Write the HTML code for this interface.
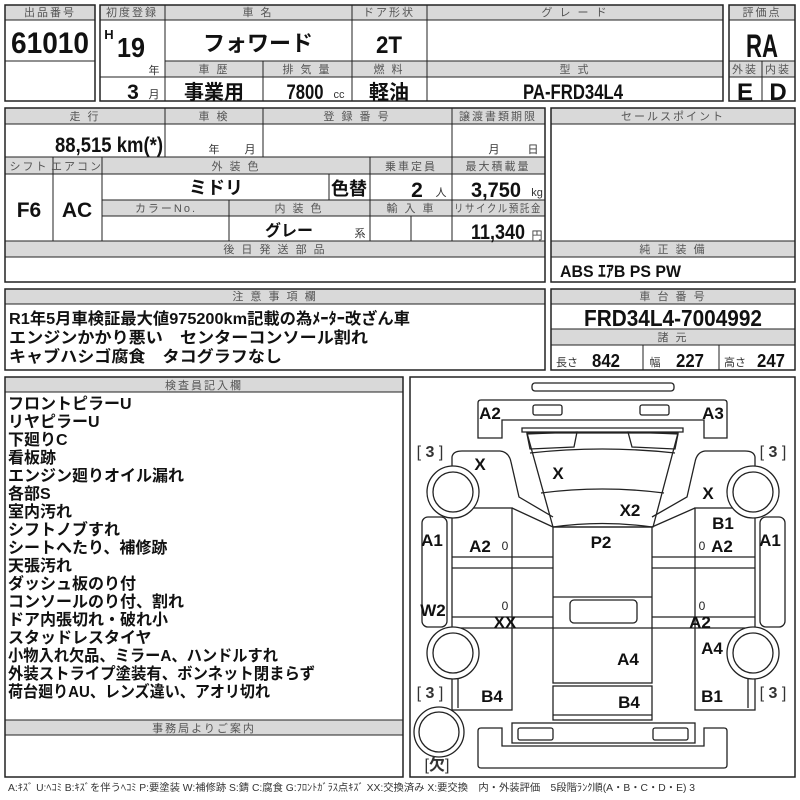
<!DOCTYPE html>
<html><head><meta charset="utf-8"><style>
html,body{margin:0;padding:0;background:#fff}
svg{display:block}
text{font-family:"Liberation Sans","Noto Sans CJK JP",sans-serif}
.h{font-size:11px;fill:#555;text-anchor:middle;letter-spacing:2px}
.b{font-weight:bold;fill:#111;text-anchor:middle}
.s{font-size:11px;fill:#333;text-anchor:middle}
.l{font-weight:bold;fill:#111;font-size:16px}
.g{fill:#d9d9d9;stroke:none}
.d{fill:none;stroke:#222;stroke-width:1.3}
.c{font-weight:bold;fill:#111;font-size:17px;text-anchor:middle}
.br{font-size:16px;fill:#333;text-anchor:middle}
</style></head><body>
<svg width="800" height="800" viewBox="0 0 800 800" xmlns="http://www.w3.org/2000/svg">
<g>
<rect class="g" x="5" y="5" width="90" height="15"/>
<rect x="5" y="5" width="90" height="96" fill="none" stroke="#222" stroke-width="1.5"/>
<line x1="5" y1="20" x2="95" y2="20" stroke="#222"/>
<line x1="5" y1="61" x2="95" y2="61" stroke="#222"/>
<text class="h" x="50" y="16">出品番号</text>
<text class="b" x="50" y="53" font-size="30" textLength="78" lengthAdjust="spacingAndGlyphs">61010</text>

<rect class="g" x="100" y="5" width="623" height="15"/>
<rect class="g" x="165" y="61" width="558" height="16"/>
<rect x="100" y="5" width="623" height="96" fill="none" stroke="#222" stroke-width="1.5"/>
<g stroke="#222">
<line x1="100" y1="20" x2="723" y2="20"/>
<line x1="165" y1="61" x2="723" y2="61"/>
<line x1="100" y1="77" x2="723" y2="77"/>
<line x1="165" y1="5" x2="165" y2="101"/>
<line x1="352" y1="5" x2="352" y2="101"/>
<line x1="427" y1="5" x2="427" y2="101"/>
<line x1="263" y1="61" x2="263" y2="101"/>
</g>
<text class="h" x="132" y="16" letter-spacing="0">初度登録</text>
<text class="h" x="258" y="16">車 名</text>
<text class="h" x="389" y="16" letter-spacing="0">ドア形状</text>
<text class="h" x="575" y="16">グ レ ー ド</text>
<text class="b" x="109" y="39" font-size="13">H</text>
<text class="b" x="131" y="57" font-size="28" textLength="28" lengthAdjust="spacingAndGlyphs">19</text>
<text class="s" x="154" y="74">年</text>
<text class="b" x="258" y="51" font-size="22">フォワード</text>
<text class="b" x="389" y="53" font-size="24" textLength="26" lengthAdjust="spacingAndGlyphs">2T</text>
<text class="h" x="214" y="73">車 歴</text>
<text class="h" x="307" y="73">排 気 量</text>
<text class="h" x="389" y="73">燃 料</text>
<text class="h" x="575" y="73">型 式</text>
<text class="b" x="133" y="99" font-size="21">3</text>
<text class="s" x="154" y="98">月</text>
<text class="b" x="214" y="99" font-size="20">事業用</text>
<text class="b" x="305" y="99" font-size="21" textLength="37" lengthAdjust="spacingAndGlyphs">7800</text>
<text class="s" x="339" y="98" font-size="10">cc</text>
<text class="b" x="389" y="99" font-size="20">軽油</text>
<text class="b" x="573" y="99" font-size="21" textLength="100" lengthAdjust="spacingAndGlyphs">PA-FRD34L4</text>

<rect class="g" x="729" y="5" width="66" height="15"/>
<rect class="g" x="729" y="61" width="66" height="16"/>
<rect x="729" y="5" width="66" height="96" fill="none" stroke="#222" stroke-width="1.5"/>
<g stroke="#222"><line x1="729" y1="20" x2="795" y2="20"/><line x1="729" y1="61" x2="795" y2="61"/><line x1="729" y1="77" x2="795" y2="77"/><line x1="762" y1="61" x2="762" y2="101"/></g>
<text class="h" x="762" y="16" letter-spacing="0">評価点</text>
<text class="b" x="762" y="57" font-size="32" textLength="32" lengthAdjust="spacingAndGlyphs">RA</text>
<text class="h" x="745" y="73" letter-spacing="0">外装</text>
<text class="h" x="778" y="73" letter-spacing="0">内装</text>
<text class="b" x="745" y="100" font-size="24">E</text>
<text class="b" x="778" y="100" font-size="24">D</text>

<rect class="g" x="5" y="108" width="540" height="16"/>
<rect class="g" x="5" y="157" width="540" height="17"/>
<rect class="g" x="102" y="200" width="443" height="16"/>
<rect class="g" x="5" y="241" width="540" height="16"/>
<rect x="5" y="108" width="540" height="174" fill="none" stroke="#222" stroke-width="1.5"/>
<g stroke="#222">
<line x1="5" y1="124" x2="545" y2="124"/>
<line x1="5" y1="157" x2="545" y2="157"/>
<line x1="5" y1="174" x2="545" y2="174"/>
<line x1="102" y1="200" x2="545" y2="200"/>
<line x1="102" y1="216" x2="545" y2="216"/>
<line x1="5" y1="241" x2="545" y2="241"/>
<line x1="5" y1="257" x2="545" y2="257"/>
<line x1="165" y1="108" x2="165" y2="157"/>
<line x1="263" y1="108" x2="263" y2="157"/>
<line x1="452" y1="108" x2="452" y2="241"/>
<line x1="53" y1="157" x2="53" y2="241"/>
<line x1="102" y1="157" x2="102" y2="241"/>
<line x1="370" y1="157" x2="370" y2="241"/>
<line x1="329" y1="174" x2="329" y2="200"/>
<line x1="229" y1="200" x2="229" y2="241"/>
<line x1="411" y1="216" x2="411" y2="241"/>
</g>
<text class="h" x="85" y="120">走 行</text>
<text class="h" x="214" y="120">車 検</text>
<text class="h" x="357" y="120">登 録 番 号</text>
<text class="h" x="498" y="120" letter-spacing="0">譲渡書類期限</text>
<text class="b" x="109" y="152" font-size="21" textLength="108" lengthAdjust="spacingAndGlyphs">88,515 km(*)</text>
<text class="s" x="214" y="153">年</text>
<text class="s" x="250" y="153">月</text>
<text class="s" x="494" y="153">月</text>
<text class="s" x="533" y="153">日</text>
<text class="h" x="29" y="170" letter-spacing="0">シフト</text>
<text class="h" x="77" y="170" letter-spacing="0">エアコン</text>
<text class="h" x="236" y="170">外 装 色</text>
<text class="h" x="411" y="170" letter-spacing="0">乗車定員</text>
<text class="h" x="498" y="170" letter-spacing="0">最大積載量</text>
<text class="b" x="29" y="217" font-size="21">F6</text>
<text class="b" x="77" y="217" font-size="21">AC</text>
<text class="b" x="216" y="194" font-size="18">ミドリ</text>
<text class="b" x="349" y="195" font-size="18">色替</text>
<text class="b" x="417" y="197" font-size="21">2</text>
<text class="s" x="441" y="196">人</text>
<text class="b" x="496" y="197" font-size="21" textLength="50" lengthAdjust="spacingAndGlyphs">3,750</text>
<text class="s" x="537" y="196" font-size="10">kg</text>
<text class="h" x="166" y="212" letter-spacing="4">カラーNo.</text>
<text class="h" x="299" y="212">内 装 色</text>
<text class="h" x="411" y="212">輸 入 車</text>
<text class="h" x="498" y="212" letter-spacing="0" textLength="88" lengthAdjust="spacingAndGlyphs">リサイクル預託金</text>
<text class="b" x="289" y="236" font-size="16">グレー</text>
<text class="s" x="360" y="237">系</text>
<text class="b" x="498" y="239" font-size="21" textLength="54" lengthAdjust="spacingAndGlyphs">11,340</text>
<text class="s" x="537" y="239">円</text>
<text class="h" x="275" y="253">後 日 発 送 部 品</text>

<rect class="g" x="551" y="108" width="244" height="16"/>
<rect class="g" x="551" y="241" width="244" height="16"/>
<rect x="551" y="108" width="244" height="174" fill="none" stroke="#222" stroke-width="1.5"/>
<g stroke="#222"><line x1="551" y1="124" x2="795" y2="124"/><line x1="551" y1="241" x2="795" y2="241"/><line x1="551" y1="257" x2="795" y2="257"/></g>
<text class="h" x="673" y="120" letter-spacing="6">セールスポイント</text>
<text class="h" x="673" y="253">純 正 装 備</text>
<text x="560" y="277" font-size="17" font-weight="bold" fill="#111" style="text-anchor:start" textLength="121" lengthAdjust="spacingAndGlyphs">ABS ｴｱB PS PW</text>

<rect class="g" x="5" y="289" width="540" height="15"/>
<rect x="5" y="289" width="540" height="81" fill="none" stroke="#222" stroke-width="1.5"/>
<line x1="5" y1="304" x2="545" y2="304" stroke="#222"/>
<text class="h" x="275" y="300">注 意 事 項 欄</text>
<text class="l" x="9" y="324" font-size="17" textLength="401" lengthAdjust="spacingAndGlyphs">R1年5月車検証最大値975200km記載の為ﾒｰﾀｰ改ざん車</text>
<text class="l" x="9" y="343" font-size="17" textLength="359" lengthAdjust="spacingAndGlyphs">エンジンかかり悪い　センターコンソール割れ</text>
<text class="l" x="9" y="362" font-size="17" textLength="273" lengthAdjust="spacingAndGlyphs">キャブハシゴ腐食　タコグラフなし</text>

<rect class="g" x="551" y="289" width="244" height="15"/>
<rect class="g" x="551" y="329" width="244" height="16"/>
<rect x="551" y="289" width="244" height="81" fill="none" stroke="#222" stroke-width="1.5"/>
<g stroke="#222"><line x1="551" y1="304" x2="795" y2="304"/><line x1="551" y1="329" x2="795" y2="329"/><line x1="551" y1="345" x2="795" y2="345"/><line x1="643" y1="345" x2="643" y2="370"/><line x1="719" y1="345" x2="719" y2="370"/></g>
<text class="h" x="673" y="300">車 台 番 号</text>
<text class="b" x="673" y="326" font-size="23" textLength="178" lengthAdjust="spacingAndGlyphs">FRD34L4-7004992</text>
<text class="h" x="673" y="341">諸 元</text>
<text class="s" x="567" y="366">長さ</text>
<text class="b" x="606" y="367" font-size="18" textLength="28" lengthAdjust="spacingAndGlyphs">842</text>
<text class="s" x="655" y="366">幅</text>
<text class="b" x="690" y="367" font-size="18" textLength="28" lengthAdjust="spacingAndGlyphs">227</text>
<text class="s" x="735" y="366">高さ</text>
<text class="b" x="771" y="367" font-size="18" textLength="28" lengthAdjust="spacingAndGlyphs">247</text>

<rect class="g" x="5" y="377" width="398" height="15"/>
<rect class="g" x="5" y="720" width="398" height="15"/>
<rect x="5" y="377" width="398" height="400" fill="none" stroke="#222" stroke-width="1.5"/>
<g stroke="#222"><line x1="5" y1="392" x2="403" y2="392"/><line x1="5" y1="720" x2="403" y2="720"/><line x1="5" y1="735" x2="403" y2="735"/></g>
<text class="h" x="204" y="389" letter-spacing="4">検査員記入欄</text>
<text class="h" x="204" y="732" letter-spacing="5">事務局よりご案内</text>
<g class="l" font-size="15.5">
<text x="8" y="409">フロントピラーU</text>
<text x="8" y="427">リヤピラーU</text>
<text x="8" y="445">下廻りC</text>
<text x="8" y="463">看板跡</text>
<text x="8" y="481">エンジン廻りオイル漏れ</text>
<text x="8" y="499">各部S</text>
<text x="8" y="517">室内汚れ</text>
<text x="8" y="535">シフトノブすれ</text>
<text x="8" y="553">シートへたり、補修跡</text>
<text x="8" y="571">天張汚れ</text>
<text x="8" y="589">ダッシュ板のり付</text>
<text x="8" y="607">コンソールのり付、割れ</text>
<text x="8" y="625">ドア内張切れ・破れ小</text>
<text x="8" y="643">スタッドレスタイヤ</text>
<text x="8" y="661" textLength="270" lengthAdjust="spacingAndGlyphs">小物入れ欠品、ミラーA、ハンドルすれ</text>
<text x="8" y="679" textLength="307" lengthAdjust="spacingAndGlyphs">外装ストライプ塗装有、ボンネット閉まらず</text>
<text x="8" y="697" textLength="262" lengthAdjust="spacingAndGlyphs">荷台廻りAU、レンズ違い、アオリ切れ</text>
</g>

<rect x="410" y="377" width="385" height="400" fill="none" stroke="#222" stroke-width="1.5"/>
<g class="d">
<rect x="532" y="383" width="142" height="8" rx="3"/>
<path d="M478,403 Q478,400 481,400 L724,400 Q727,400 727,403 L727,438 L704,438 L704,420 L502,420 L502,438 L478,438 Z"/>
<rect x="533" y="405" width="29" height="10" rx="2"/>
<rect x="640" y="405" width="29" height="10" rx="2"/>
<path d="M522,428 L683,428 L683,432 L522,432 Z"/>
<path d="M527,433 L678,433 L653,527 L553,527 Z"/>
<path d="M527,434 L577,432 L574,447 L530,449 Z"/>
<path d="M678,434 L628,432 L632,447 L675,449 Z"/>
<path d="M530,453 Q602,445 675,453"/>
<path d="M541,493 Q602,485 664,493"/>
<path d="M553,527 Q602,520 652,527"/>
<rect x="553" y="527" width="99" height="156"/>
<line x1="553" y1="597" x2="652" y2="597"/>
<rect x="570" y="600" width="67" height="23" rx="4"/>
<rect x="553" y="686" width="99" height="34"/>
<line x1="553" y1="715" x2="652" y2="715"/>
<path d="M478,731 Q478,728 481,728 L502,728 L502,746 L704,746 L704,728 L724,728 Q727,728 727,731 L727,765 Q727,768 724,768 L481,768 Q478,768 478,765 Z"/>
<rect x="512" y="723" width="183" height="20"/>
<rect x="518" y="728" width="35" height="12" rx="2"/>
<rect x="653" y="728" width="35" height="12" rx="2"/>
<rect x="452" y="508" width="60" height="202"/>
<rect x="695" y="508" width="60" height="202"/>
<line x1="452" y1="557" x2="553" y2="557"/><line x1="452" y1="568" x2="553" y2="568"/>
<line x1="652" y1="557" x2="755" y2="557"/><line x1="652" y1="568" x2="755" y2="568"/>
<line x1="452" y1="617" x2="553" y2="617"/><line x1="652" y1="617" x2="755" y2="617"/>
<line x1="452" y1="628" x2="755" y2="628"/>
<path d="M452,470 L452,457 Q453,451 462,451 L500,451 Q509,452 511,462 L519,497 L553,517"/>
<line x1="512" y1="508" x2="553" y2="527"/>
<path d="M755,470 L755,457 Q754,451 745,451 L705,451 Q697,452 695,462 L687,497 L652,517"/>
<line x1="695" y1="508" x2="652" y2="527"/>
<line x1="458" y1="677" x2="458" y2="708"/>
<line x1="748" y1="677" x2="748" y2="708"/>
<g fill="#fff">
<circle cx="453" cy="492" r="26"/><circle cx="453" cy="492" r="20"/>
<circle cx="753" cy="492" r="26"/><circle cx="753" cy="492" r="20"/>
<circle cx="453" cy="653" r="26"/><circle cx="453" cy="653" r="20"/>
<circle cx="753" cy="653" r="26"/><circle cx="753" cy="653" r="20"/>
<circle cx="439" cy="732" r="25"/><circle cx="439" cy="732" r="20"/>
</g>
<rect x="422" y="517" width="25" height="110" rx="6" fill="#fff"/>
<rect x="760" y="517" width="25" height="110" rx="6" fill="#fff"/>
</g>
<g class="c">
<text x="490" y="419">A2</text><text x="713" y="419">A3</text>
<text x="480" y="470">X</text><text x="558" y="479">X</text><text x="708" y="499">X</text>
<text x="630" y="516">X2</text><text x="723" y="529">B1</text>
<text x="432" y="546">A1</text><text x="480" y="552">A2</text><text x="601" y="548">P2</text>
<text x="722" y="552">A2</text><text x="770" y="546">A1</text>
<text x="433" y="616">W2</text><text x="505" y="628">XX</text><text x="700" y="628">A2</text>
<text x="712" y="654">A4</text><text x="628" y="665">A4</text>
<text x="492" y="702">B4</text><text x="712" y="702">B1</text><text x="629" y="708">B4</text>
</g>
<g font-size="12" fill="#222" text-anchor="middle">
<text x="505" y="550">0</text><text x="702" y="550">0</text><text x="505" y="610">0</text><text x="702" y="610">0</text>
</g>
<g class="br">
<text x="430" y="457">[ <tspan font-weight="bold">3</tspan> ]</text>
<text x="773" y="457">[ <tspan font-weight="bold">3</tspan> ]</text>
<text x="430" y="698">[ <tspan font-weight="bold">3</tspan> ]</text>
<text x="773" y="698">[ <tspan font-weight="bold">3</tspan> ]</text>
<text x="437" y="770">[<tspan font-weight="bold">欠</tspan>]</text>
</g>

<text x="8" y="791" font-size="10" fill="#333" textLength="687" lengthAdjust="spacingAndGlyphs">A:ｷｽﾞ U:ﾍｺﾐ B:ｷｽﾞを伴うﾍｺﾐ P:要塗装 W:補修跡 S:錆 C:腐食 G:ﾌﾛﾝﾄｶﾞﾗｽ点ｷｽﾞ XX:交換済み X:要交換　内・外装評価　5段階ﾗﾝｸ順(A・B・C・D・E) 3</text>
</g>
</svg>
</body></html>
